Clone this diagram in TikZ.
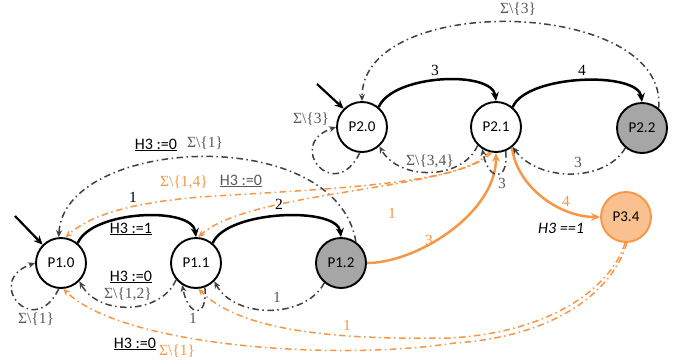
\documentclass[tikz,border=0pt]{standalone}
\usepackage{fontspec}
\setmainfont{Liberation Serif}
\newfontfamily\sansfnt{Carlito}
\usetikzlibrary{arrows.meta}
\definecolor{lgray}{HTML}{404040}
\definecolor{tgray}{HTML}{595959}
\definecolor{orng}{HTML}{F79646}
\definecolor{lorng}{HTML}{FAC090}
\definecolor{ngray}{HTML}{A6A6A6}
\tikzset{
 state/.style={circle, draw=black, line width=1.9pt, minimum size=50pt, inner sep=0pt, font=\sansfnt\fontsize{15}{15}\selectfont},
 final/.style={state, fill=ngray},
 orstate/.style={state, draw=orng, fill=lorng},
 solidarr/.style={line width=2.5pt, -{Stealth[length=9pt,width=8pt]}},
 ddot/.style={line width=1.5pt, dash pattern=on 6.5pt off 3.5pt on 1.5pt off 3.5pt, -{Stealth[length=7pt,width=6pt]}},
 gdd/.style={ddot, draw=lgray},
 odd/.style={ddot, draw=orng},
 lab/.style={font=\fontsize{15.5}{15.5}\selectfont, inner sep=1pt},
 ulab/.style={font=\sansfnt\fontsize{16}{16}\selectfont, inner sep=1pt},
}
\begin{document}
\begin{tikzpicture}[x=1pt,y=-1pt]
\useasboundingbox (0,0) rectangle (691,362);
% states
\node[state] (P10) at (61,263) {P1.0};
\node[state] (P11) at (196,263) {P1.1};
\node[final] (P12) at (341,263) {P1.2};
\node[state] (P20) at (362,127) {P2.0};
\node[state] (P21) at (496,127) {P2.1};
\node[final] (P22) at (642,128) {P2.2};
\node[orstate] (P34) at (626,217) {P3.4};
% initial arrows
\coordinate (i1) at (15,216);
\coordinate (i2) at (317,84);
\draw[solidarr, line width=2.2pt] (i1) -- (P10.135);
\draw[solidarr, line width=2.2pt] (i2) -- (P20.135);
% solid transitions
\draw[solidarr] (P10.50) .. controls +(14,-33) and +(-4,-31) .. (P11.90);
\draw[solidarr] (P11.50) .. controls +(14,-33) and +(-4,-31) .. (P12.90);
\draw[solidarr] (P20.50) .. controls +(14,-33) and +(-4,-31) .. (P21.90);
\draw[solidarr] (P21.50) .. controls +(14,-33) and +(-4,-31) .. (P22.90);
\draw[solidarr, draw=orng] (P12.0) .. controls +(50,0) and +(0,60) .. (P21.-90);
\draw[solidarr, draw=orng] (P21.-52) .. controls +(5,40) and +(-40,0) .. (P34.180);
% gray dash-dot transitions
\draw[gdd] (P22.50) .. controls +(10,-110) and +(0,-110) .. (P20.90);
\draw[gdd] (P12.55) .. controls +(-20,-120) and +(5,-100) .. (P10.95);
\draw[gdd] (P11.-140) .. controls +(-15,35) and +(20,35) .. (P10.-45);
\draw[gdd] (P12.-130) .. controls +(-20,37) and +(20,37) .. (P11.-45);
\draw[gdd] (P21.-135) .. controls +(-15,35) and +(20,35) .. (P20.-48);
\draw[gdd] (P22.-130) .. controls +(-20,35) and +(25,35) .. (P21.-50);
\draw[gdd] (P10.-95) .. controls +(-25,52) and +(-52,18) .. (P10.180);
\draw[gdd] (P20.-95) .. controls +(-25,52) and +(-52,18) .. (P20.180);
\draw[gdd] (P11.-70) .. controls +(3,32) and +(6,32) .. (P11.-122);
\draw[gdd] (P21.-68) .. controls +(3,32) and +(6,32) .. (P21.-122);
% orange dash-dot transitions
\draw[odd] (P21.-105) .. controls (465,185) and (320,189) .. (200,197) .. controls (130,203) and (90,215) .. (P10.80);
\draw[odd] (P21.-100) .. controls (460,190) and (250,190) .. (P11.85);
\draw[odd] (P34.-92) .. controls (612,285) and (555,332) .. (450,338) .. controls (330,340) and (240,330) .. (P11.-85);
\draw[odd] (P34.-88) .. controls (614,288) and (560,336) .. (455,343) .. controls (330,362) and (120,345) .. (P10.-85);
% labels
\node[ulab] (l1) at (156,145) {\underline{H3 :=0}};
\node[lab, text=tgray] (l2) at (205,143) {Σ\textbackslash\{1\}};
\node[lab] (l3) at (133,197) {1};
\node[lab, text=orng] (l4) at (184,182) {Σ\textbackslash\{1,4\}};
\node[ulab, text=tgray] (l5) at (241,181) {\underline{H3 :=0}};
\node[lab, text=orng] (l6) at (392,213) {1};
\node[ulab] (l7) at (131,229) {\underline{H3 :=1}};
\node[lab] (l8) at (279,204) {2};
\node[lab] (l9) at (435,70) {3};
\node[lab] (l10) at (582,70) {4};
\node[lab, text=tgray] (l11) at (518,9) {Σ\textbackslash\{3\}};
\node[lab, text=tgray] (l12) at (311,119) {Σ\textbackslash\{3\}};
\node[lab, text=tgray] (l13) at (430,161) {Σ\textbackslash\{3,4\}};
\node[lab, text=tgray] (l14) at (578,162) {3};
\node[lab, text=tgray] (l15) at (502,183) {3};
\node[lab, text=orng] (l16) at (429,240) {3};
\node[lab, text=orng] (l17) at (566,201) {4};
\node[ulab, font=\sansfnt\itshape\fontsize{16}{16}\selectfont] (l18) at (561,228) {H3 ==1};
\node[ulab] (l19) at (131,277) {\underline{H3 :=0}};
\node[lab, text=tgray] (l20) at (128,294) {Σ\textbackslash\{1,2\}};
\node[lab, text=tgray] (l21) at (277,297) {1};
\node[lab, text=tgray] (l22) at (193,318) {1};
\node[lab, text=tgray] (l23) at (36,319) {Σ\textbackslash\{1\}};
\node[lab, text=orng] (l24) at (347,325) {1};
\node[ulab] (l25) at (135,344) {\underline{H3 :=0}};
\node[lab, text=orng] (l26) at (177,351) {Σ\textbackslash\{1\}};
\end{tikzpicture}
\end{document}
